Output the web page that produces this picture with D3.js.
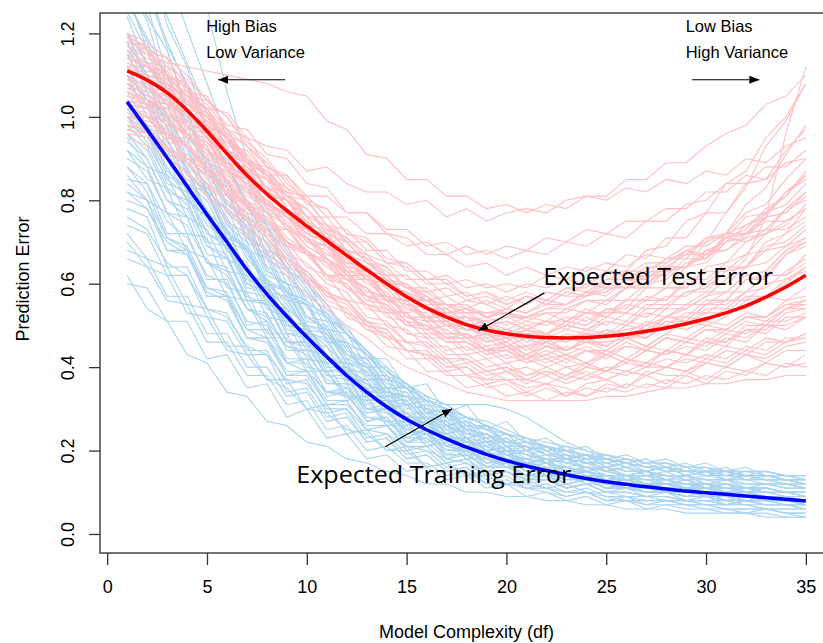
<!DOCTYPE html>
<html lang="en">
<head>
<meta charset="UTF-8">
<title>Prediction Error vs Model Complexity</title>
<script src="https://d3js.org/d3.v7.min.js"></script>
<style>
  body{margin:0;background:#fff;}
  svg text{font-family:"Liberation Sans",Arial,sans-serif;fill:#000;}
  text.callout{font-family:"Open Sans","Noto Sans",sans-serif;}
</style>
</head>
<body>
<svg id="chart" width="823" height="643"></svg>
<script>
  // degrees of freedom 1..35
  const df = d3.range(1, 36);
  const xTicks = [0, 5, 10, 15, 20, 25, 30, 35];
  const yTicks = [0, 0.2, 0.4, 0.6, 0.8, 1.0, 1.2];

  // training error of each realisation, in hundredths
  const trainRuns = [
    [140,130,117,108,98,88,80,74,65,59,52,48,43,38,35,32,30,27,25,24,22,21,19,18,18,17,16,16,15,15,14,14,14,13,13],
    [70,64,62,53,52,44,43,37,35,30,29,25,24,20,20,16,17,14,14,12,12,11,10,10,9,8,8,8,7,7,6,6,6,5,5],
    [110,104,95,95,81,72,68,59,54,50,43,39,37,31,28,28,24,22,21,19,17,16,16,14,14,13,12,12,11,11,10,10,10,9,9],
    [95,88,86,76,73,63,62,52,51,42,41,33,33,27,27,22,23,19,19,16,17,14,15,12,13,11,12,10,11,9,10,9,9,8,8],
    [125,116,104,100,87,79,76,64,58,55,48,43,40,35,31,30,26,24,24,21,19,18,17,16,15,14,14,13,12,12,11,11,11,10,10],
    [85,84,72,72,61,61,50,51,41,42,34,34,27,28,22,23,19,19,16,16,14,14,12,13,11,11,10,10,9,9,8,9,8,8,7],
    [118,106,99,89,82,75,66,61,55,49,45,40,36,32,29,26,24,22,21,19,18,17,16,15,14,13,13,12,12,11,11,10,10,10,9],
    [100,96,88,80,76,68,63,56,52,46,43,37,35,30,29,25,24,21,20,18,17,16,14,14,13,12,11,11,10,10,10,9,9,8,8],
    [78,76,64,64,54,53,44,44,36,37,29,30,23,24,19,20,16,17,14,15,12,13,11,12,10,10,9,9,8,8,7,8,7,7,6],
    [135,124,116,101,96,84,80,69,64,56,52,46,43,37,35,30,29,26,25,22,21,20,18,17,17,16,15,14,14,13,13,13,12,12,11],
    [92,85,83,72,71,59,58,48,48,40,39,33,32,26,26,21,22,18,18,16,16,14,14,12,12,11,11,10,10,9,9,8,9,8,7],
    [112,104,100,87,82,73,68,60,56,49,46,40,38,32,31,27,25,22,22,19,18,17,16,15,14,13,13,12,12,11,11,10,10,9,9],
    [66,64,56,55,46,46,38,38,31,32,25,26,20,21,17,17,14,15,12,12,11,10,9,10,8,8,7,7,7,6,6,5,6,5,4],
    [150,137,124,113,101,93,83,74,67,60,54,48,44,39,36,32,30,28,26,24,23,21,20,19,19,18,17,17,16,16,15,15,15,14,14],
    [104,96,90,80,76,66,63,54,52,44,43,36,35,29,28,24,24,20,20,17,17,15,15,13,14,12,12,11,11,10,10,10,9,9,8],
    [88,84,75,71,62,60,51,50,42,42,34,35,28,28,23,23,19,19,16,16,14,14,12,13,11,11,10,10,9,9,8,8,8,7,7],
    [120,113,106,95,90,78,74,63,60,52,49,42,40,34,33,28,27,24,23,20,19,18,17,16,15,14,14,13,13,12,12,11,11,10,10],
    [98,93,83,79,69,66,57,55,46,45,38,37,30,30,24,25,20,21,17,18,15,15,13,14,12,12,11,11,10,10,9,9,9,8,8],
    [74,72,62,62,52,51,43,43,34,35,28,29,22,23,18,19,15,16,13,14,11,12,10,11,9,9,8,8,8,7,7,7,6,6,6],
    [128,119,110,98,93,81,77,66,63,54,52,44,42,36,35,30,29,25,24,22,21,19,18,17,16,15,15,14,14,13,13,12,12,12,11],
    [108,103,90,87,75,73,62,60,51,50,42,41,33,33,27,28,22,23,19,20,17,17,15,15,13,14,12,12,11,11,10,10,10,9,9],
    [82,80,68,68,57,57,47,47,39,39,32,32,25,26,20,21,17,18,14,15,13,13,11,12,10,10,9,9,8,8,8,7,7,7,7],
    [96,92,82,80,69,67,56,56,46,46,38,38,30,31,24,25,20,21,17,18,15,15,13,14,12,12,11,11,10,10,9,9,9,8,8],
    [115,107,101,89,84,74,70,61,58,50,48,41,39,33,32,27,26,23,22,20,19,17,16,15,14,14,13,13,12,12,11,11,10,10,10],
    [60,59,51,51,42,43,35,36,28,30,23,24,18,19,15,16,13,14,11,12,9,10,8,9,7,8,6,7,6,6,5,5,5,4,4],
    [132,123,107,101,89,85,73,70,60,58,49,48,40,40,32,33,27,28,23,24,20,21,18,19,16,17,15,16,14,15,13,14,13,12,12],
    [102,96,86,83,72,70,59,58,49,48,40,40,32,33,26,27,21,22,19,19,16,17,14,15,13,13,12,12,11,11,10,10,9,9,9],
    [90,87,77,76,65,63,54,52,45,44,36,36,29,30,24,24,20,20,17,17,14,15,13,13,11,12,10,10,9,10,8,9,8,8,7],
    [145,131,118,107,97,88,79,71,64,58,53,48,43,39,35,32,30,28,26,24,22,21,20,19,18,17,16,16,15,15,15,14,14,13,13],
    [80,78,68,67,57,57,47,47,38,39,31,32,25,26,21,21,17,18,15,15,13,14,11,12,10,11,9,10,8,9,7,8,7,7,7],
    [120,110,100,92,83,76,67,61,53,47,42,38,36,34,33,32,31,31,31,30,28,25,22,20,18,17,16,15,15,14,14,13,13,13,12],
    [165,150,135,121,108,95,85,75,68,60,55,48,44,39,36,33,31,28,26,24,23,21,20,19,18,17,16,16,15,15,15,14,14,13,13],
    [172,162,150,140,126,106,90,78,69,61,55,49,44,40,36,33,31,28,27,25,23,22,21,20,19,18,17,17,16,16,15,15,15,14,14],
    [62,54,51,43,41,34,33,27,26,22,21,18,17,15,14,12,12,10,10,9,9,8,8,7,7,6,6,6,5,5,5,5,4,4,4],
    [118,110,94,88,76,71,60,58,48,47,39,39,32,32,27,27,23,23,20,21,18,19,16,17,15,16,14,15,13,14,13,13,13,12,12],
    [88,82,71,68,58,56,47,46,38,38,31,31,26,26,22,22,18,19,16,16,14,14,13,13,11,11,10,10,9,9,9,8,8,8,8],
    [104,97,92,82,78,68,65,55,54,45,45,37,37,30,31,25,26,21,22,18,18,15,16,13,14,12,12,11,11,10,10,10,9,9,9],
    [128,118,105,98,86,82,70,67,57,55,46,45,37,37,30,31,25,26,22,22,19,20,17,18,15,16,14,14,13,13,12,12,12,11,11],
    [72,66,64,55,54,45,45,37,37,30,31,24,25,20,21,16,17,14,15,12,13,11,12,10,10,9,9,8,8,7,7,7,6,6,6],
    [96,90,80,76,65,64,54,53,44,44,36,36,29,30,23,25,19,21,16,18,15,16,14,14,12,13,11,12,10,11,9,10,9,9,8],
    [140,127,110,102,88,83,71,68,58,56,47,46,38,38,31,32,26,27,22,23,20,21,18,19,16,17,15,16,14,15,13,14,13,13,12],
    [110,100,95,84,82,71,69,60,59,50,49,41,41,33,34,27,29,23,24,20,21,17,19,15,16,14,15,13,14,12,12,11,11,10,10],
    [84,80,71,69,59,58,49,49,41,41,33,34,27,28,22,24,18,20,15,17,13,14,12,13,11,12,10,11,9,10,8,9,8,8,7],
    [155,140,122,112,97,91,78,74,63,61,51,50,42,42,35,36,29,31,25,27,22,23,20,21,18,19,17,18,16,17,15,16,14,14,13],
    [98,96,84,82,70,69,58,57,48,48,39,40,32,33,26,28,21,23,18,20,16,17,14,15,13,14,12,13,11,12,10,11,10,10,9],
    [115,106,92,88,77,73,63,60,50,49,41,41,34,35,28,30,24,26,21,23,20,21,18,19,17,18,16,17,15,16,14,15,14,14,13],
    [124,112,106,93,88,77,73,63,60,52,49,43,41,35,34,29,28,25,24,21,21,19,19,17,17,15,15,14,14,13,13,12,12,12,11],
    [92,88,77,74,65,62,54,51,45,43,37,35,30,29,25,24,21,20,18,17,16,15,14,13,13,12,11,11,10,10,9,9,9,8,8],
    [106,98,93,84,80,70,68,58,57,48,47,39,39,32,32,27,27,22,23,19,20,17,18,15,16,13,14,12,13,11,12,10,11,10,10],
    [76,73,65,62,54,52,45,43,37,36,30,30,25,24,21,20,18,17,15,15,13,13,11,12,10,10,9,9,8,8,7,8,7,7,6],
    [138,124,116,102,96,83,79,67,64,55,53,45,44,37,36,31,30,26,26,22,22,20,20,18,18,17,16,16,15,15,14,14,13,13,13],
    [100,94,85,81,72,69,60,58,50,49,41,41,34,34,28,28,23,23,20,20,17,18,15,16,14,13,14,12,13,11,12,10,11,10,9],
    [86,80,77,68,66,57,56,47,47,39,39,32,33,26,27,21,23,18,20,16,17,14,15,13,13,11,12,10,11,9,10,9,9,8,8],
    [116,110,97,93,82,78,68,66,56,55,46,46,38,38,31,32,26,27,22,23,20,21,18,19,16,17,15,16,14,15,13,14,13,13,12],
    [68,66,57,57,48,48,40,40,33,34,27,28,22,23,18,19,15,16,12,13,11,11,9,10,8,9,7,8,7,7,6,6,6,5,5],
    [112,102,98,86,82,72,69,60,58,49,48,41,40,33,33,28,28,23,24,20,20,18,18,16,16,14,15,13,14,12,13,11,12,11,11],
    [94,90,80,78,67,66,56,55,46,46,38,38,31,32,25,27,21,23,18,20,16,17,14,15,13,13,12,12,11,11,10,10,9,9,9],
    [130,116,110,96,91,79,75,64,62,52,51,43,42,35,35,29,30,24,26,21,22,19,20,17,18,16,17,15,16,14,15,13,14,13,12],
    [82,78,70,67,59,57,49,47,41,39,34,33,28,27,23,23,19,19,16,17,14,15,12,13,11,11,10,10,9,9,8,8,8,7,7],
    [102,97,87,83,74,71,61,59,51,50,42,42,35,35,29,29,24,25,20,21,17,18,15,16,14,14,13,13,12,12,11,11,11,10,10],
    [120,108,103,90,86,75,72,62,60,51,50,42,42,35,35,29,30,25,26,22,23,20,21,18,19,17,18,16,17,15,16,14,15,14,13]
  ];

  // test error of each realisation, in hundredths
  const testRuns = [
    [115,112,109,103,99,92,88,83,76,73,70,64,60,58,52,50,49,46,44,45,42,43,45,44,44,47,45,48,51,50,52,56,57,60,64],
    [105,103,102,96,91,90,83,79,77,72,70,68,62,60,60,57,54,56,55,53,55,58,57,57,61,63,61,65,68,66,72,74,76,82,85],
    [118,116,110,108,101,95,91,85,81,76,71,68,63,60,55,54,51,47,48,45,45,47,44,46,49,47,48,52,51,55,55,58,62,62,67],
    [100,97,96,89,86,83,75,72,69,62,58,56,51,49,44,43,42,38,37,37,35,36,33,36,37,35,39,38,38,41,40,43,42,45,46],
    [112,112,107,106,102,101,95,93,92,87,88,84,82,82,79,80,76,78,75,77,78,77,80,81,81,85,85,89,89,93,96,98,103,105,110],
    [108,105,104,97,96,88,86,81,74,71,66,63,58,57,52,51,47,48,46,47,44,47,46,49,48,51,50,54,54,57,58,62,63,68,70],
    [98,97,92,89,84,81,75,71,65,62,57,55,50,48,44,43,39,40,36,37,34,36,35,33,36,35,38,36,39,37,40,39,41,40,41],
    [120,118,114,110,104,100,93,89,83,80,74,71,66,64,59,57,53,54,50,51,49,51,50,53,52,56,56,59,59,64,65,70,72,78,82],
    [110,107,106,99,96,89,87,79,77,71,69,62,62,56,56,51,51,47,48,45,47,45,47,46,48,47,50,49,52,51,54,54,57,56,59],
    [104,103,98,96,90,88,81,79,73,71,67,65,61,60,56,56,53,54,52,54,53,56,55,58,57,61,60,64,64,68,68,72,73,78,80],
    [116,113,112,104,102,94,90,83,80,73,71,64,63,57,56,51,51,47,47,44,45,42,43,41,43,41,44,43,45,44,47,46,50,49,52],
    [102,101,96,93,88,84,78,75,70,67,62,59,55,53,48,48,44,45,42,43,41,43,41,44,42,45,44,47,46,49,49,52,52,55,56],
    [113,110,108,101,98,91,89,83,82,76,76,70,70,65,65,61,62,59,60,58,60,59,61,60,63,62,65,65,68,67,71,70,73,73,76],
    [96,95,90,87,81,78,72,68,63,60,55,53,49,47,42,42,38,38,35,36,33,35,33,35,34,36,35,37,36,38,37,39,38,41,40],
    [118,117,112,109,104,100,94,90,84,80,74,70,65,62,57,56,52,52,48,49,46,48,46,48,47,50,49,52,52,56,56,61,62,67,70],
    [107,104,103,96,95,87,85,78,77,70,69,63,62,57,56,52,52,49,50,47,49,47,49,48,51,50,54,54,58,58,63,64,70,72,78],
    [111,110,105,101,95,91,85,82,77,74,69,66,61,60,55,54,50,50,47,48,45,46,44,46,44,47,45,48,47,50,49,52,51,54,55],
    [99,96,96,89,88,81,80,73,73,67,66,61,61,56,56,52,53,50,51,49,51,50,52,51,54,53,57,56,60,60,64,64,68,69,73],
    [119,117,110,107,100,96,88,85,78,75,69,67,61,59,54,53,48,48,44,44,41,42,40,41,39,41,40,42,41,43,42,45,44,47,47],
    [106,103,102,95,93,85,83,77,76,70,69,64,64,60,60,56,57,54,56,54,57,56,59,59,63,63,68,69,75,77,84,87,95,100,108],
    [114,113,107,105,98,95,89,86,80,78,72,70,65,64,59,59,55,55,52,53,51,53,51,54,52,55,54,57,57,60,60,64,65,69,71],
    [101,98,97,90,89,81,79,72,70,64,62,56,55,50,49,45,45,41,42,39,40,38,40,38,40,39,41,40,43,42,45,44,47,46,48],
    [109,108,103,101,95,92,85,83,77,75,69,68,63,62,57,57,53,53,50,51,49,51,49,52,50,53,52,55,55,58,58,62,63,68,71],
    [117,114,113,106,105,97,95,88,86,80,78,72,71,66,65,61,61,57,58,55,57,55,58,57,59,59,62,62,66,66,70,71,76,77,82],
    [103,102,96,94,88,85,78,76,70,68,62,61,56,55,50,50,46,46,43,44,42,44,42,44,43,45,44,47,46,49,48,51,50,54,54],
    [112,109,108,102,100,93,92,86,86,81,81,77,77,73,73,69,70,67,68,66,68,67,70,69,72,71,75,75,79,80,84,84,88,88,92],
    [97,96,91,89,83,80,73,70,64,62,56,54,49,48,44,44,40,40,37,39,36,38,36,38,37,39,38,40,39,42,41,44,43,46,47],
    [115,112,111,103,101,92,90,82,80,73,72,65,64,59,58,54,54,50,51,48,50,48,50,49,51,50,53,52,55,55,58,58,62,62,65],
    [117,115,113,112,111,110,109,108,106,105,99,97,91,90,85,85,81,81,78,79,77,79,78,81,80,83,82,85,84,87,86,90,89,93,95],
    [104,103,99,95,92,86,82,77,74,69,66,62,59,56,54,52,50,49,48,47,47,47,47,48,48,49,50,52,54,57,61,66,76,96,112],
    [110,107,105,98,97,89,88,81,80,74,73,68,67,62,62,58,59,56,57,55,57,55,58,57,60,59,63,63,68,70,77,83,93,99,108],
    [95,93,90,85,81,75,71,66,62,57,54,50,47,43,40,38,36,34,33,32,32,32,32,32,33,33,34,35,35,36,36,37,37,38,38],
    [113,111,110,105,104,98,97,91,90,84,83,77,77,72,71,67,67,64,65,62,64,62,64,63,65,64,67,66,69,69,72,72,75,75,78],
    [108,107,103,101,96,94,89,87,82,81,76,76,72,72,69,70,67,69,67,69,68,71,70,73,72,75,75,78,78,82,82,86,85,89,90],
    [106,104,101,96,92,84,80,72,69,61,59,52,50,45,44,39,39,35,36,33,34,32,34,33,35,34,36,35,38,36,39,38,41,40,43],
    [111,109,105,104,97,96,89,86,78,73,66,63,57,56,51,50,47,47,44,45,43,46,44,47,45,48,48,51,51,55,56,61,61,67,69],
    [100,99,97,90,87,82,80,75,73,68,65,61,59,53,53,49,50,47,48,46,49,48,51,50,54,54,59,59,64,65,70,72,77,79,84],
    [119,115,109,106,98,95,87,85,78,75,69,68,61,60,55,54,50,50,46,47,44,46,44,47,45,48,47,50,49,51,50,53,52,55,55],
    [109,106,105,99,96,88,86,79,77,72,70,63,63,57,56,52,52,49,49,47,49,48,50,49,52,51,55,55,58,59,63,64,69,70,74],
    [103,102,95,93,87,83,76,72,66,63,57,56,50,49,44,44,40,41,38,39,37,39,37,40,39,42,41,44,43,47,46,50,50,54,56],
    [115,112,110,105,102,96,93,88,85,79,78,72,70,65,64,60,60,57,58,56,58,56,59,58,61,61,64,64,67,67,71,72,76,77,81],
    [98,97,92,91,85,82,76,73,67,65,60,58,52,51,46,46,42,42,39,40,38,39,37,39,37,39,38,40,39,41,40,43,41,44,44],
    [112,109,107,100,98,91,87,81,78,72,70,65,64,59,58,54,54,51,52,50,52,51,54,53,56,56,60,61,65,66,71,73,78,81,87],
    [107,106,100,98,92,89,82,80,73,71,65,63,58,57,52,52,48,48,45,46,43,45,43,45,43,46,44,47,46,49,49,52,52,56,57],
    [104,102,100,95,94,87,84,77,74,67,65,59,57,52,51,47,47,43,44,41,42,40,42,40,43,41,44,43,46,45,48,47,50,50,52],
    [110,107,104,99,95,89,85,79,76,70,68,62,61,56,55,51,51,49,48,49,48,48,51,50,53,53,56,56,61,61,65,67,72,74,79],
    [102,100,97,93,87,85,78,76,69,67,62,60,55,54,50,49,46,46,43,45,42,45,44,46,46,47,47,50,50,53,53,57,57,61,63],
    [116,113,110,105,100,97,89,88,81,78,72,70,65,63,59,58,55,55,52,53,52,53,53,56,55,59,59,63,64,70,72,79,83,91,98],
    [98,97,93,89,84,80,75,71,66,63,58,56,51,50,46,45,41,42,39,40,37,39,38,40,39,42,40,44,43,46,46,49,49,53,54],
    [113,110,109,103,100,95,90,87,81,80,74,73,68,68,63,63,60,61,59,60,59,62,61,64,63,67,66,71,71,77,77,84,85,92,97],
    [105,104,99,96,89,87,79,77,70,68,61,60,54,53,48,47,43,43,40,41,38,40,38,41,39,42,41,44,43,46,45,49,48,52,52],
    [120,116,114,107,103,97,93,86,83,76,74,68,66,61,60,55,55,52,51,52,50,51,51,53,53,56,56,59,59,63,63,67,68,72,75],
    [100,100,94,93,86,84,77,75,69,68,62,62,57,57,53,54,51,52,50,52,52,54,55,57,58,61,62,66,67,71,72,77,79,85,90],
    [108,105,103,98,94,88,84,78,75,69,66,61,59,54,53,48,48,44,45,42,43,41,43,41,44,42,45,44,47,46,49,48,51,51,53],
    [114,112,108,104,99,95,90,86,81,78,73,71,67,65,61,61,57,58,55,57,55,58,57,60,59,63,63,66,66,71,71,76,77,82,86],
    [97,95,93,86,84,77,75,68,66,60,58,53,51,47,46,42,42,38,39,37,37,36,38,37,39,38,40,40,42,41,44,43,46,46,48],
    [111,109,107,101,98,92,89,83,80,75,72,67,65,61,59,56,55,53,53,53,52,54,54,56,56,59,60,63,64,68,70,74,77,81,86],
    [106,104,102,96,94,87,85,80,76,72,70,65,64,60,58,56,55,54,53,54,53,55,55,58,58,61,61,64,64,67,68,71,72,75,78],
    [118,116,110,107,101,97,90,86,80,76,71,68,63,61,57,54,53,50,50,48,48,46,48,47,49,48,51,50,53,53,56,56,60,61,64],
    [103,100,99,93,90,85,80,77,71,68,64,61,57,55,51,50,47,47,44,46,43,45,44,46,45,48,47,51,50,54,54,58,59,63,66]
  ];

  // expected (average) errors
  const trainMean = [1.036,0.97,0.902,0.834,0.766,0.70,0.634,0.575,0.522,0.472,0.425,0.38,0.34,0.305,0.275,0.25,0.228,0.208,0.191,0.176,0.163,0.152,0.142,0.133,0.125,0.119,0.113,0.108,0.103,0.099,0.095,0.091,0.087,0.083,0.079];
  const testMean = [1.11,1.088,1.058,1.016,0.966,0.912,0.86,0.815,0.775,0.738,0.703,0.668,0.633,0.60,0.569,0.542,0.52,0.502,0.489,0.48,0.474,0.471,0.47,0.471,0.474,0.479,0.486,0.494,0.504,0.516,0.53,0.547,0.568,0.592,0.62];

  const box = {left: 100, right: 833, top: 13, bottom: 553};

  const svg = d3.select('#chart');

  // R style: range padded by 4%
  const x = d3.scaleLinear().domain([-0.36, 36.36]).range([box.left, box.right]);
  const y = d3.scaleLinear().domain([-0.0456, 1.249]).range([box.bottom, box.top]);

  const defs = svg.append('defs');
  defs.append('clipPath').attr('id', 'plot-area')
    .append('rect')
    .attr('x', box.left).attr('y', box.top)
    .attr('width', box.right - box.left).attr('height', box.bottom - box.top);

  defs.append('marker')
    .attr('id', 'head')
    .attr('viewBox', '0 0 10 8')
    .attr('refX', 10).attr('refY', 4)
    .attr('markerWidth', 10).attr('markerHeight', 8)
    .attr('markerUnits', 'userSpaceOnUse')
    .attr('orient', 'auto')
    .append('path').attr('d', 'M0,0L10,4L0,8Z').attr('fill', '#000');

  const runLine = d3.line()
    .x((d, i) => x(df[i]))
    .y(d => y(d / 100));
  const meanLine = d3.line()
    .x((d, i) => x(df[i]))
    .y(d => y(d))
    .curve(d3.curveMonotoneX);

  const plot = svg.append('g').attr('clip-path', 'url(#plot-area)');

  plot.append('g').selectAll('path')
    .data(trainRuns)
    .join('path')
    .attr('d', runLine)
    .attr('fill', 'none')
    .attr('stroke', '#aad4ef')
    .attr('stroke-width', 1.1);

  plot.append('g').selectAll('path')
    .data(testRuns)
    .join('path')
    .attr('d', runLine)
    .attr('fill', 'none')
    .attr('stroke', '#ffbfc4')
    .attr('stroke-width', 1.1);

  plot.append('path')
    .attr('d', meanLine(trainMean))
    .attr('fill', 'none')
    .attr('stroke', '#0000ff')
    .attr('stroke-width', 3.5);

  plot.append('path')
    .attr('d', meanLine(testMean))
    .attr('fill', 'none')
    .attr('stroke', '#ff0000')
    .attr('stroke-width', 3.5);

  // box
  svg.append('rect')
    .attr('x', box.left).attr('y', box.top)
    .attr('width', box.right - box.left).attr('height', box.bottom - box.top)
    .attr('fill', 'none')
    .attr('stroke', '#444')
    .attr('stroke-width', 1.5);

  // x axis
  const xAxis = svg.append('g')
    .attr('transform', `translate(0,${box.bottom})`)
    .call(d3.axisBottom(x).tickValues(xTicks).tickSize(12).tickPadding(15).tickFormat(d3.format('d')));
  xAxis.select('.domain').remove();
  xAxis.selectAll('line').attr('stroke', '#333').attr('stroke-width', 1.3);
  xAxis.selectAll('text').style('font-size', '18px').attr('fill', '#000');

  // y axis, labels rotated like R
  const yAxis = svg.append('g')
    .attr('transform', `translate(${box.left},0)`)
    .call(d3.axisLeft(y).tickValues(yTicks).tickSize(11).tickFormat(d3.format('.1f')));
  yAxis.select('.domain').remove();
  yAxis.selectAll('line').attr('stroke', '#333').attr('stroke-width', 1.3);
  yAxis.selectAll('text')
    .attr('transform', 'rotate(-90)')
    .attr('x', 0).attr('y', -26).attr('dy', null)
    .attr('text-anchor', 'middle')
    .style('font-size', '18px');

  svg.append('text')
    .attr('x', (box.left + box.right) / 2).attr('y', 638)
    .attr('text-anchor', 'middle')
    .style('font-size', '18px')
    .text('Model Complexity (df)');

  svg.append('text')
    .attr('transform', `translate(29,${(box.top + box.bottom) / 2 - 4}) rotate(-90)`)
    .attr('text-anchor', 'middle')
    .style('font-size', '18px')
    .text('Prediction Error');

  // corner notes
  const notes = [
    {text: 'High Bias', df: 4.96, v: 1.204},
    {text: 'Low Variance', df: 4.96, v: 1.141},
    {text: 'Low Bias', df: 28.98, v: 1.204},
    {text: 'High Variance', df: 28.98, v: 1.141}
  ];
  svg.append('g').selectAll('text')
    .data(notes)
    .join('text')
    .attr('x', d => x(d.df)).attr('y', d => y(d.v))
    .style('font-size', '16.5px')
    .text(d => d.text);

  const arrows = [
    {from: [8.92, 1.089], to: [5.56, 1.089]},
    {from: [29.3, 1.089], to: [32.67, 1.089]},
    {from: [21.9, 0.578], to: [18.59, 0.487]},
    {from: [13.93, 0.209], to: [17.28, 0.300]}
  ];
  svg.append('g').selectAll('line')
    .data(arrows)
    .join('line')
    .attr('x1', d => x(d.from[0])).attr('y1', d => y(d.from[1]))
    .attr('x2', d => x(d.to[0])).attr('y2', d => y(d.to[1]))
    .attr('stroke', '#000')
    .attr('stroke-width', 1.2)
    .attr('marker-end', 'url(#head)');

  const callouts = [
    {text: 'Expected Test Error', df: 21.84, v: 0.597, len: 230},
    {text: 'Expected Training Error', df: 9.47, v: 0.122, len: 275}
  ];
  svg.append('g').selectAll('text')
    .data(callouts)
    .join('text')
    .attr('class', 'callout')
    .attr('x', d => x(d.df)).attr('y', d => y(d.v))
    .attr('textLength', d => d.len)
    .attr('lengthAdjust', 'spacingAndGlyphs')
    .style('font-size', '23.5px')
    .text(d => d.text);
</script>
</body>
</html>
